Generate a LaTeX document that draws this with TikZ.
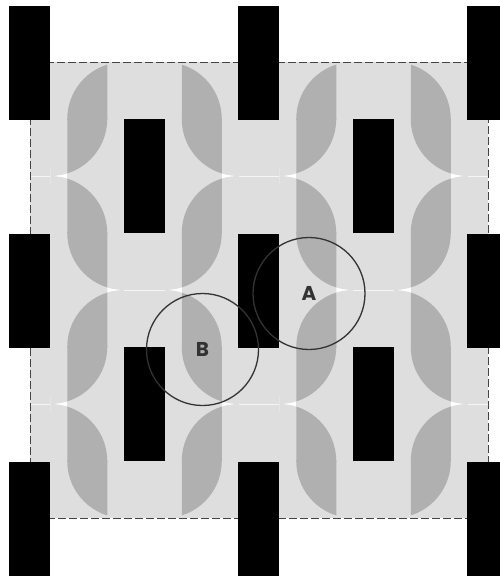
\documentclass[tikz,border=0pt]{standalone}
\usepackage{fontspec}
\setsansfont{Poppins}
\usetikzlibrary{positioning}
\definecolor{tilegray}{HTML}{DEDEDE}
\definecolor{leafgray}{HTML}{B0B0B0}
\definecolor{ringgray}{HTML}{333333}
\definecolor{edgegray}{HTML}{444444}
\begin{document}
\begin{tikzpicture}[x=1pt,y=-1pt]
      \tikzstyle{pillar}=[fill=black, inner sep=0, minimum width=41, minimum height=114]
      \tikzstyle{ring}=[circle, draw=ringgray, line width=1.3, minimum size=112, inner sep=0, text=ringgray, font=\sffamily\bfseries\fontsize{20}{20}\selectfont]
      \tikzstyle{seam}=[white, line width=0.8, opacity=0.7]
      \tikzstyle{border}=[edgegray, line width=1, dash pattern=on 8pt off 3pt]

      \useasboundingbox (0,0) rectangle (500,576);
      \clip (0,0) rectangle (500,576);

      \fill[tilegray] (30,62) rectangle (488,518);

      \foreach \yb/\xc/\xe in {176/50.25/67.25, 176/238.75/221.75, 176/279.25/296.25, 176/467.75/450.75,
                               290/124.25/107.25, 290/164.75/181.75, 290/353.25/336.25, 290/393.75/410.75,
                               404/50.25/67.25, 404/238.75/221.75, 404/279.25/296.25, 404/467.75/450.75}
      {
        \begin{scope}
          \clip (\xc,\yb-8) rectangle (\xe,\yb+8);
          \fill[white] (\xc,\yb-8) rectangle (\xe,\yb+8);
          \fill[tilegray] (\xc,\yb-57) circle (57) (\xc,\yb+57) circle (57);
        \end{scope}
      }

      \foreach \yb in {176,404}
      {
        \draw[seam] (30,\yb) -- (50.25,\yb);
        \draw[seam] (238.75,\yb) -- (279.25,\yb);
        \draw[seam] (467.75,\yb) -- (488,\yb);
      }
      \draw[seam] (124.25,290) -- (164.75,290);
      \draw[seam] (353.25,290) -- (393.75,290);

      \foreach \r in {0,...,3}
        \foreach \c in {0,...,3}
        {
          \pgfmathsetmacro\xl{67.25+114.5*\c}
          \pgfmathsetmacro\xr{\xl+40}
          \pgfmathsetmacro\yt{62+114*\r}
          \pgfmathsetmacro\ym{\yt+57}
          \pgfmathtruncatemacro\flip{mod(\r+\c,2)}
          \ifnum\flip=0
            \pgfmathsetmacro\xu{\xl+57}\pgfmathsetmacro\xd{\xr-57}
          \else
            \pgfmathsetmacro\xu{\xr-57}\pgfmathsetmacro\xd{\xl+57}
          \fi
          \begin{scope}
            \clip (\xl,\yt) rectangle (\xr,\ym+0.5);
            \fill[leafgray] (\xu,\ym) circle (57);
          \end{scope}
          \begin{scope}
            \clip (\xl,\ym-0.5) rectangle (\xr,\yt+114);
            \fill[leafgray] (\xd,\ym) circle (57);
          \end{scope}
        }

      \draw[border] (30,62) rectangle (488,518);

      \foreach \i in {0,1,2}
        \foreach \j in {0,1,2}
          \node[pillar] (post-\i-\j) at (29.5+229*\i, 62.5+228*\j) {};

      \foreach \i in {0,1}
        \foreach \j in {0,1}
          \node[pillar] (inner-\i-\j) at (144.5+229*\i, 176+228*\j) {};

      \node[ring] (A) at (309,293.5) {A};
      \node[ring] (B) at (202.5,349.5) {B};

\end{tikzpicture}
\end{document}
